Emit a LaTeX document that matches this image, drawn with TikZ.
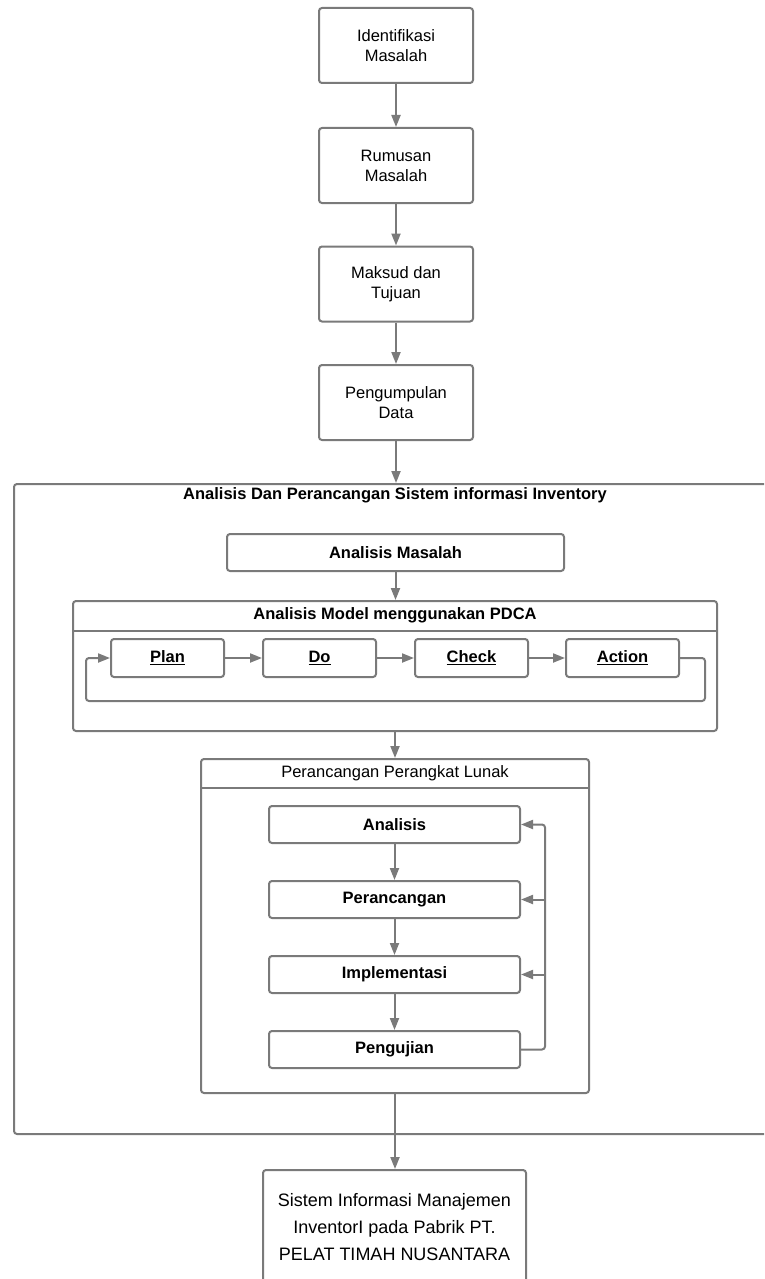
\documentclass[tikz,border=0pt]{standalone}
\usepackage{fontspec}
\setmainfont{Liberation Sans}
\usetikzlibrary{arrows.meta}
\definecolor{lg}{RGB}{122,122,122}
\tikzset{
  box/.style={draw=lg, line width=2pt, rounded corners=3pt, inner sep=0pt, align=center, text=black, font=\fontsize{16.5}{20}\selectfont},
  bbox/.style={box, font=\fontsize{16.5}{20}\selectfont\bfseries},
  conn/.style={draw=lg, line width=2pt, -{Triangle[length=12pt,width=9pt]}},
  line/.style={draw=lg, line width=2pt},
  lbl/.style={inner sep=0pt, text=black}
}
\begin{document}
\begin{tikzpicture}[x=1pt,y=-1pt]
\useasboundingbox (0,0) rectangle (764,1279);
\clip (0,0) rectangle (764,1279);
% main column
\node[box, minimum width=154pt, minimum height=75pt] (b1) at (396,45.5) {Identifikasi\\Masalah};
\node[box, minimum width=154pt, minimum height=75pt] (b2) at (396,165.5) {Rumusan\\Masalah};
\node[box, minimum width=154pt, minimum height=75pt] (b3) at (396,284) {Maksud dan\\Tujuan};
\node[box, minimum width=154pt, minimum height=75pt] (b4) at (396,402.5) {Pengumpulan\\Data};
% outer container
\node[box, minimum width=776pt, minimum height=650pt] (outer) at (402,809) {};
\node[lbl, font=\fontsize{16.5}{20}\selectfont\bfseries] (otitle) at (395,495) {Analisis Dan Perancangan Sistem informasi Inventory};
\node[bbox, minimum width=337pt, minimum height=37pt] (am) at (395.5,552.5) {Analisis Masalah};
% PDCA container
\node[box, minimum width=644pt, minimum height=130pt] (pdca) at (395,666) {};
\coordinate (ph1) at (73,631);
\coordinate (ph2) at (717,631);
\draw[line] (ph1) -- (ph2);
\node[lbl, font=\fontsize{16.5}{20}\selectfont\bfseries] (ptitle) at (395,615) {Analisis Model menggunakan PDCA};
\node[bbox, minimum width=113pt, minimum height=38pt] (plan) at (167.5,658) {\underline{Plan}};
\node[bbox, minimum width=113pt, minimum height=38pt] (do) at (319.5,658) {\underline{Do}};
\node[bbox, minimum width=113pt, minimum height=38pt] (check) at (471.5,658) {\underline{Check}};
\node[bbox, minimum width=113pt, minimum height=38pt] (action) at (622.5,658) {\underline{Action}};
\draw[conn] (plan) -- (do);
\draw[conn] (do) -- (check);
\draw[conn] (check) -- (action);
\coordinate (l1) at (705,658);
\coordinate (l2) at (705,701);
\coordinate (l3) at (86,701);
\coordinate (l4) at (86,658);
\draw[conn, rounded corners=3pt] (action.east) -- (l1) -- (l2) -- (l3) -- (l4) -- (plan.west);
% PLL container
\node[box, minimum width=388pt, minimum height=334pt] (pll) at (395,926) {};
\coordinate (h1) at (201,788);
\coordinate (h2) at (589,788);
\draw[line] (h1) -- (h2);
\node[lbl, font=\fontsize{16.5}{20}\selectfont] (pltitle) at (395,773) {Perancangan Perangkat Lunak};
\node[bbox, minimum width=251pt, minimum height=37pt] (s1) at (394.5,824.5) {Analisis};
\node[bbox, minimum width=251pt, minimum height=37pt] (s2) at (394.5,899.5) {Perancangan};
\node[bbox, minimum width=251pt, minimum height=37pt] (s3) at (394.5,974.5) {Implementasi};
\node[bbox, minimum width=251pt, minimum height=37pt] (s4) at (394.5,1049.5) {Pengujian};
\draw[conn] (s1) -- (s2);
\draw[conn] (s2) -- (s3);
\draw[conn] (s3) -- (s4);
\coordinate (f0) at (545,1049.5);
\coordinate (f1) at (545,824.5);
\coordinate (f2) at (545,899.5);
\coordinate (f3) at (545,974.5);
\draw[conn, rounded corners=3pt] (s4.east) -- (f0) -- (f1) -- (s1.east);
\draw[conn] (f2) -- (s2.east);
\draw[conn] (f3) -- (s3.east);
% final
\node[box, minimum width=263pt, minimum height=114pt, font=\fontsize{18}{27}\selectfont] (fin) at (394.5,1227) {Sistem Informasi Manajemen\\InventorI pada Pabrik PT.\\PELAT TIMAH NUSANTARA};
% main arrows
\draw[conn] (b1) -- (b2);
\draw[conn] (b2) -- (b3);
\draw[conn] (b3) -- (b4);
\draw[conn] (b4.south) -- (b4.south |- outer.north);
\draw[conn] (am.south) -- (am.south |- pdca.north);
\draw[conn] (pdca.south -| pll.north) -- (pll.north);
\draw[conn] (pll.south) -- (pll.south |- fin.north);
\end{tikzpicture}
\end{document}
